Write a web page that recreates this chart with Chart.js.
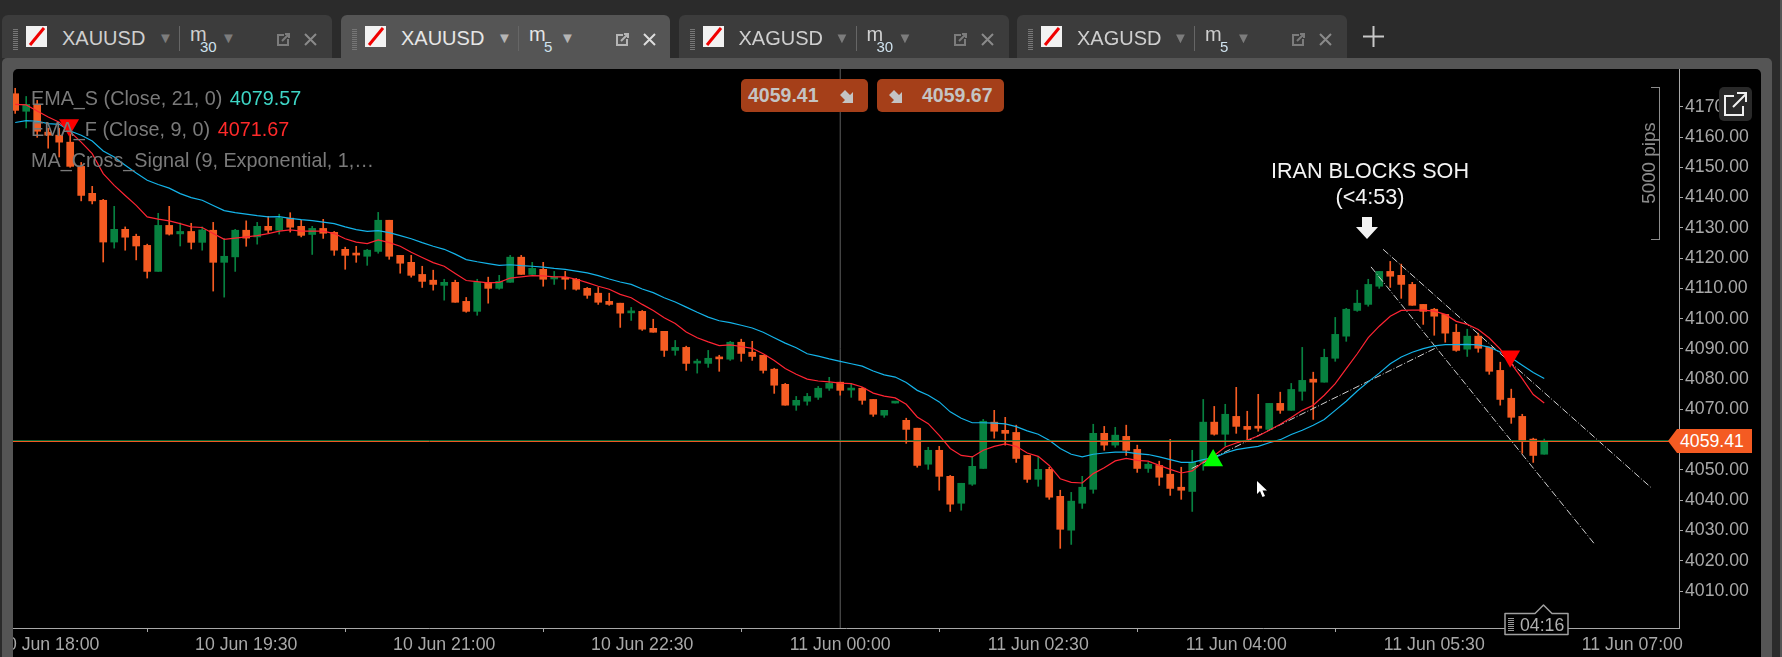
<!DOCTYPE html>
<html>
<head>
<meta charset="utf-8">
<title>XAUUSD m5</title>
<script src="https://cdn.jsdelivr.net/npm/chart.js@4"></script>
<style>
  html, body { margin: 0; padding: 0; width: 1782px; height: 657px; overflow: hidden; background: #2b2b2b; font-family: "Liberation Sans", Arial, sans-serif; }
  .abs { position: absolute; white-space: nowrap; }
  #frame { position: absolute; left: 2px; top: 58px; width: 1770px; height: 610px; background: #555; border-radius: 5px 5px 0 0; }
  #panel { position: absolute; left: 13px; top: 69px; width: 1748px; height: 600px; background: #000; border-radius: 5px 5px 0 0; }
  #chart { position: absolute; left: -27px; top: 49px; }
  .tab { position: absolute; top: 15px; height: 43px; width: 330px; background: #3c3c3c; border-radius: 6px 6px 0 0; }
  .tab.active { background: #555; height: 54px; width: 329px; }
  .legend { color: #7a7a7a; font-size: 19.8px; line-height: 24px; }
  .quote { top: 79px; width: 127px; height: 33px; background: #a53f19; border-radius: 5px; color: #c4c4c4; font-weight: bold; font-size: 19.5px; line-height: 33px; }
</style>
</head>
<body>
<div id="frame"></div>
<div class="abs" style="left:1780px;top:0;width:2px;height:657px;background:#555"></div>
<div id="panel"></div>
<canvas id="chart" width="1788" height="608"></canvas>
<div id="overlay"></div>

<script>
// candles, oldest first, 5 minutes each
const opens = [
  4174.3,4168.5,4170.5,4161.6,4160.6,4158.3,4150.3,4141.4,4139.1,4125.3,
  4129.5,4127.2,4124.2,4115.6,4130.8,4128.0,4128.8,4125.2,4129.2,4118.6,
  4120.4,4129.2,4127.0,4130.5,4129.2,4133.2,4130.5,4127.8,4129.8,4128.5,
  4122.9,4121.2,4120.6,4122.2,4132.5,4120.9,4118.6,4114.6,4112.7,4111.0,
  4112.0,4105.7,4102.4,4112.0,4110.0,4112.0,4120.3,4114.6,4116.3,4113.1,
  4113.3,4113.0,4110.0,4108.4,4105.7,4105.1,4101.9,4102.4,4096.8,4095.8,
  4089.5,4090.5,4085.3,4085.2,4086.9,4086.6,4092.2,4088.9,4087.9,4083.3,
  4078.3,4071.4,4072.7,4074.0,4077.0,4079.0,4076.4,4077.0,4073.3,4068.1,
  4072.1,4066.4,4063.8,4051.9,4056.5,4047.9,4039.0,4045.3,4050.5,4065.8,
  4063.1,4062.4,4054.8,4046.9,4050.2,4041.3,4030.1,4039.0,4043.6,4062.1,
  4058.2,4061.1,4056.8,4050.5,4051.5,4048.6,4044.3,4042.9,4052.5,4065.8,
  4061.8,4067.7,4064.4,4063.9,4063.4,4072.0,4069.7,4076.0,4080.0,4079.0,
  4086.9,4094.2,4102.7,4104.7,4110.7,4115.6,4114.3,4111.3,4104.7,4103.1,
  4101.4,4095.5,4089.9,4094.2,4090.5,4082.9,4073.7,4067.7,4060.2,4055.2
];
const closes = [
  4168.8,4170.8,4161.9,4160.6,4158.3,4150.3,4140.7,4138.9,4125.3,4129.5,
  4126.9,4124.0,4115.6,4130.8,4127.9,4128.8,4125.2,4129.3,4118.6,4120.6,
  4129.2,4126.6,4130.5,4129.2,4133.2,4130.2,4127.5,4129.8,4128.2,4122.6,
  4120.9,4121.0,4122.6,4132.5,4120.6,4118.3,4114.3,4112.3,4111.3,4112.0,
  4105.4,4102.4,4112.0,4110.0,4112.3,4120.3,4114.6,4116.6,4113.0,4113.3,
  4113.0,4109.7,4107.7,4105.4,4104.7,4101.8,4102.1,4096.5,4095.5,4089.5,
  4090.5,4085.2,4085.6,4086.9,4086.7,4092.2,4088.5,4087.5,4082.9,4078.0,
  4071.4,4073.0,4074.3,4077.0,4078.6,4076.3,4076.6,4073.0,4068.4,4069.7,
  4072.4,4063.4,4051.5,4056.5,4047.9,4038.7,4045.6,4051.2,4066.1,4062.8,
  4062.1,4053.8,4046.9,4050.2,4041.0,4030.4,4039.7,4044.3,4062.1,4058.2,
  4061.5,4056.5,4050.5,4051.9,4047.6,4043.9,4043.3,4052.5,4065.8,4061.8,
  4068.4,4064.4,4063.4,4063.8,4072.0,4069.7,4076.6,4079.6,4079.0,4087.2,
  4094.8,4103.1,4105.1,4111.3,4115.6,4114.0,4111.3,4104.4,4102.4,4100.8,
  4095.2,4089.5,4094.2,4090.2,4082.6,4073.3,4067.4,4059.5,4054.8,4059.4
];
const highs = [
  4176.1,4173.4,4172.1,4162.9,4162.9,4160.9,4151.6,4143.7,4139.4,4137.1,
  4130.3,4127.9,4124.6,4134.8,4137.1,4131.6,4131.5,4130.3,4131.8,4126.5,
  4129.5,4132.3,4131.8,4133.8,4134.5,4135.0,4132.5,4130.5,4132.8,4128.8,
  4123.6,4123.9,4122.9,4135.1,4132.5,4120.9,4120.9,4117.3,4116.0,4113.0,
  4112.7,4107.0,4113.0,4113.7,4114.3,4120.9,4120.9,4118.6,4118.6,4115.6,
  4115.6,4113.3,4110.3,4110.3,4108.4,4105.1,4103.7,4102.7,4099.8,4095.8,
  4092.8,4090.9,4086.6,4089.5,4087.9,4092.5,4093.2,4092.5,4087.9,4083.6,
  4078.6,4074.3,4075.3,4077.6,4080.6,4079.0,4078.6,4077.3,4073.3,4069.7,
  4072.4,4067.1,4063.8,4057.5,4057.8,4048.2,4045.6,4054.5,4066.7,4069.7,
  4067.4,4064.8,4054.8,4054.5,4050.9,4043.3,4042.6,4047.9,4065.1,4064.4,
  4064.1,4064.8,4058.2,4052.5,4052.9,4060.1,4050.9,4056.5,4073.3,4071.0,
  4071.7,4077.3,4069.4,4075.0,4072.0,4075.7,4078.6,4090.5,4082.3,4089.9,
  4100.4,4103.4,4109.4,4113.0,4115.6,4118.9,4118.0,4112.0,4104.7,4103.4,
  4101.4,4098.1,4096.5,4095.2,4090.5,4085.6,4076.7,4068.4,4060.5,4060.2
];
const lows = [
  4167.8,4163.0,4159.9,4156.3,4153.4,4150.0,4138.9,4137.9,4118.7,4123.3,
  4122.6,4119.4,4113.4,4115.6,4127.6,4124.0,4123.0,4122.6,4109.1,4107.1,
  4115.6,4123.9,4124.6,4128.2,4127.9,4128.6,4127.0,4121.2,4126.5,4120.9,
  4116.3,4118.6,4117.6,4121.6,4119.6,4115.0,4113.7,4110.3,4109.4,4106.1,
  4105.4,4102.1,4101.1,4105.1,4109.7,4112.0,4114.6,4114.6,4110.7,4111.3,
  4109.7,4109.4,4106.7,4104.7,4104.4,4097.1,4099.4,4096.1,4095.5,4087.5,
  4087.9,4082.9,4082.0,4083.9,4082.6,4086.2,4085.9,4086.2,4082.0,4075.3,
  4071.4,4069.7,4071.4,4073.3,4076.3,4074.7,4074.0,4071.7,4067.7,4067.4,
  4072.1,4058.8,4050.9,4050.2,4043.3,4036.3,4036.7,4044.9,4050.5,4060.5,
  4058.2,4052.5,4045.9,4044.6,4040.3,4024.1,4025.4,4037.3,4042.3,4056.5,
  4057.5,4054.8,4049.2,4049.2,4044.9,4041.6,4040.3,4036.3,4049.9,4061.5,
  4057.8,4062.1,4059.8,4062.8,4063.4,4068.7,4069.7,4073.0,4066.7,4079.0,
  4085.9,4092.5,4102.4,4104.1,4110.0,4110.3,4106.7,4104.4,4098.1,4094.5,
  4092.2,4089.2,4087.5,4088.9,4081.6,4071.4,4065.4,4055.5,4052.5,4055.2
];

const emaSlow = [
  4164.8,4165.4,4165.2,4164.4,4164.2,4162.0,4160.6,4158.7,4155.4,4153.4,
  4150.7,4148.1,4145.7,4144.3,4143.1,4141.3,4140.0,4139.1,4137.4,4135.7,
  4135.0,4134.5,4134.0,4133.6,4133.7,4133.1,4132.7,4132.4,4131.9,4131.4,
  4130.3,4129.4,4128.8,4129.1,4128.4,4127.4,4126.4,4125.1,4123.9,4122.9,
  4121.3,4119.5,4118.8,4118.2,4117.6,4117.8,4117.5,4117.3,4117.0,4116.6,
  4116.3,4115.7,4115.1,4114.2,4113.1,4112.1,4111.3,4109.8,4108.6,4106.9,
  4105.5,4103.8,4102.1,4100.5,4099.3,4098.7,4097.8,4096.9,4095.5,4093.7,
  4091.9,4090.4,4088.4,4087.6,4086.7,4085.9,4085.1,4084.3,4082.7,4081.4,
  4080.7,4078.9,4076.3,4074.7,4072.5,4069.2,4067.1,4065.6,4065.6,4065.5,
  4065.2,4064.3,4062.9,4061.8,4059.8,4057.1,4055.2,4054.3,4055.2,4055.6,
  4055.9,4055.9,4055.4,4055.1,4054.3,4053.4,4052.5,4052.5,4053.4,4054.1,
  4055.6,4056.7,4057.3,4057.8,4059.0,4060.0,4061.7,4063.1,4064.8,4066.7,
  4069.7,4072.7,4076.1,4079.1,4082.0,4085.1,4087.3,4088.9,4090.1,4091.0,
  4091.4,4091.4,4091.5,4091.3,4090.6,4089.0,4087.1,4084.6,4082.2,4080.2
];
const emaFast = [
  4170.8,4170.6,4168.6,4166.6,4164.9,4161.7,4158.3,4154.5,4147.9,4144.0,
  4140.7,4137.4,4133.6,4132.9,4132.3,4131.4,4130.3,4130.1,4128.1,4126.2,
  4126.6,4127.0,4127.4,4128.1,4128.9,4129.3,4128.9,4128.9,4128.9,4128.1,
  4126.4,4125.3,4124.8,4126.0,4125.1,4123.9,4121.9,4120.2,4118.5,4117.3,
  4114.9,4112.6,4112.2,4111.8,4112.0,4113.4,4113.8,4114.2,4114.1,4113.8,
  4113.8,4113.0,4111.9,4110.7,4109.7,4108.0,4106.9,4104.7,4102.7,4100.3,
  4098.4,4095.6,4093.7,4092.3,4091.1,4091.3,4090.8,4090.2,4088.4,4086.2,
  4083.5,4081.6,4080.0,4079.4,4079.1,4078.7,4078.5,4077.4,4075.4,4074.4,
  4073.8,4071.7,4067.5,4065.3,4061.4,4057.1,4054.8,4054.3,4056.5,4057.8,
  4058.6,4057.8,4055.6,4054.5,4051.5,4047.1,4045.9,4045.7,4048.8,4050.7,
  4053.0,4053.8,4053.2,4052.9,4051.5,4050.2,4049.0,4049.7,4052.6,4054.8,
  4057.6,4058.9,4059.9,4061.2,4063.1,4065.1,4067.3,4069.7,4071.4,4074.7,
  4078.5,4083.5,4088.4,4093.7,4097.5,4100.8,4102.7,4102.8,4102.8,4102.5,
  4101.4,4099.1,4098.1,4096.4,4093.6,4089.9,4085.1,4080.2,4074.9,4072.1
];

const bid = 4059.41;
const ask = 4059.67;

// [candle index, price] pairs
const sellSignals = [[4.9, 4163.95], [135.9, 4087.6]];
const buySignals = [[108.9, 4053.1]];
const trendLineA = [[124.35, 4122.9], [148.8, 4043.9]];
const trendLineB = [[123.25, 4117.1], [143.6, 4025.4]];
const trendLineC = [[106.95, 4050.5], [129.25, 4090.5]];
const crosshairIndex = 75;

const yTicks = [4010, 4020, 4030, 4040, 4050, 4060, 4070, 4080, 4090, 4100, 4110, 4120, 4130, 4140, 4150, 4160, 4170];
const xTickIndex = [3, 21, 39, 57, 75, 93, 111, 129, 147];
const xTickLabels = ['10 Jun 18:00', '10 Jun 19:30', '10 Jun 21:00', '10 Jun 22:30', '11 Jun 00:00', '11 Jun 02:30', '11 Jun 04:00', '11 Jun 05:30', '11 Jun 07:00'];

const xMin = -0.2;
const xMax = 151.25;
const yMin = 3997.79;
const yMax = 4182.47;

const UP = '#078140';
const DOWN = '#f45b22';
const candleColors = opens.map((o, i) => (closes[i] >= o ? UP : DOWN));

function toPoints(pairs) {
  return pairs.map(p => ({ x: p[0], y: p[1] }));
}

function lineSet(data, color, width, dash, order) {
  return {
    type: 'line',
    data: data,
    borderColor: color,
    borderWidth: width,
    borderDash: dash || [],
    pointRadius: 0,
    tension: 0,
    order: order === undefined ? 1 : order
  };
}

function markerSet(pairs, color, rotation) {
  return {
    type: 'line',
    data: toPoints(pairs),
    showLine: false,
    pointStyle: 'triangle',
    pointRadius: 11.5,
    pointRotation: rotation,
    pointBackgroundColor: color,
    pointBorderWidth: 0,
    order: 0
  };
}

new Chart(document.getElementById('chart'), {
  type: 'bar',
  data: {
    datasets: [
      lineSet([{ x: crosshairIndex, y: yMin }, { x: crosshairIndex, y: yMax }], '#5e5e5e', 1, [], 4),
      {
        type: 'bar',
        data: lows.map((l, i) => ({ x: i, y: [l, highs[i]] })),
        backgroundColor: candleColors,
        barThickness: 1,
        grouped: false,
        order: 3
      },
      {
        type: 'bar',
        data: opens.map((o, i) => ({ x: i, y: [o, closes[i]] })),
        backgroundColor: candleColors,
        barThickness: 7,
        minBarLength: 2,
        grouped: false,
        order: 2
      },
      lineSet([{ x: xMin, y: bid }, { x: xMax, y: bid }], DOWN, 1),
      lineSet([{ x: xMin, y: ask }, { x: xMax, y: ask }], UP, 1),
      lineSet(emaFast.map((v, i) => ({ x: i, y: v })), '#ff2433', 1.2),
      lineSet(emaSlow.map((v, i) => ({ x: i, y: v })), '#14b4ea', 1.2),
      lineSet(toPoints(trendLineA), '#cfcfcf', 1, [7, 2, 1, 2]),
      lineSet(toPoints(trendLineB), '#cfcfcf', 1, [7, 2, 1, 2]),
      lineSet(toPoints(trendLineC), '#cfcfcf', 1, [7, 2, 1, 2]),
      markerSet(sellSignals, '#ff0000', 180),
      markerSet(buySignals, '#00ff00', 0)
    ]
  },
  options: {
    responsive: false,
    animation: false,
    devicePixelRatio: 1,
    // room for the axis label overhang, so the plot stays where it should
    layout: { padding: { left: 40, top: 20, right: 0, bottom: 0 } },
    plugins: { legend: { display: false }, tooltip: { enabled: false } },
    scales: {
      x: {
        type: 'linear',
        offset: false,
        min: xMin,
        max: xMax,
        border: { color: '#a8a8a8', width: 1 },
        grid: { drawOnChartArea: false, color: '#a8a8a8', tickLength: 4 },
        ticks: {
          color: '#a8a8a8',
          font: { family: 'Liberation Sans', size: 17.7 },
          padding: 2,
          maxRotation: 0,
          autoSkip: false,
          callback: v => xTickLabels[xTickIndex.indexOf(v)]
        },
        afterBuildTicks: s => { s.ticks = xTickIndex.map(v => ({ value: v })); },
        afterFit: s => { s.height = 29; }
      },
      y: {
        position: 'right',
        min: yMin,
        max: yMax,
        border: { color: '#a8a8a8', width: 1 },
        grid: { drawOnChartArea: false, color: '#a8a8a8', tickLength: 4 },
        ticks: {
          color: '#a8a8a8',
          font: { family: 'Liberation Sans', size: 17.7 },
          padding: 2,
          callback: v => v.toFixed(2)
        },
        afterBuildTicks: s => { s.ticks = yTicks.map(v => ({ value: v })); },
        afterFit: s => { s.width = 82; }
      }
    }
  }
});

// everything around the plot: tabs, legend, price boxes, annotation
const tabs = [
  { left: 2, symbol: 'XAUUSD', unit: '30', active: false },
  { left: 341, symbol: 'XAUUSD', unit: '5', active: true },
  { left: 678.5, symbol: 'XAGUSD', unit: '30', active: false },
  { left: 1017, symbol: 'XAGUSD', unit: '5', active: false }
];
const overlay = document.getElementById('overlay');

function addHtml(html) {
  overlay.insertAdjacentHTML('beforeend', html);
}

function text(left, top, str, style) {
  return '<div class="abs" style="left:' + left + 'px;top:' + top + 'px;' + style + '">' + str + '</div>';
}

function legendLine(top, str) {
  addHtml(text(31, top, str, '').replace('class="abs"', 'class="abs legend"'));
}

// frame strip hides the part of the first time label left of the panel
addHtml('<div class="abs" style="left:2px;top:69px;width:11px;height:588px;background:#555"></div>');
addHtml('<div class="abs" style="left:0;top:69px;width:2px;height:588px;background:#2b2b2b"></div>');

tabs.forEach(t => {
  const bright = t.active ? '#e6e6e6' : '#cfcfcf';
  const dim = t.active ? '#b5b5b5' : '#7c7c7c';
  const l = t.left;
  let h = '<div class="tab' + (t.active ? ' active' : '') + '" style="left:' + l + 'px"></div>';
  h += '<div class="abs" style="left:' + (l + 11) + 'px;top:28px;width:5px;height:22px;background:repeating-linear-gradient(0deg,#777 0 1px,transparent 1px 2px)"></div>';
  h += '<svg class="abs" style="left:' + (l + 24) + 'px;top:26px" width="21" height="21"><rect width="21" height="21" fill="#f2f2f2"/><line x1="4" y1="19" x2="18" y2="2" stroke="#f00000" stroke-width="3"/></svg>';
  h += text(l + 60, 26, t.symbol, 'font-size:20px;line-height:24px;color:' + bright);
  h += text(l + 156, 29, '▼', 'font-size:15px;line-height:18px;color:' + dim);
  h += '<div class="abs" style="left:' + (l + 177) + 'px;top:26px;width:1px;height:25px;background:#666"></div>';
  h += text(l + 188, 22, 'm', 'font-size:20px;line-height:24px;color:' + bright);
  h += text(l + (t.unit === '5' ? 203 : 198), 38, t.unit, 'font-size:15px;line-height:18px;color:#cfe2ee');
  h += text(l + 219, 29, '▼', 'font-size:15px;line-height:18px;color:' + dim);
  h += '<svg class="abs" style="left:' + (l + 274) + 'px;top:32px" width="15" height="15" fill="none" stroke="' + dim + '" stroke-width="2"><path d="M8 3H2V13H12V7M6 9L13 2M9 2H13V6"/></svg>';
  h += '<svg class="abs" style="left:' + (l + 302) + 'px;top:33px" width="13" height="13" stroke="' + (t.active ? '#dddddd' : '#8a8a8a') + '" stroke-width="2"><path d="M1 1L12 12M12 1L1 12"/></svg>';
  addHtml(h);
});
addHtml('<svg class="abs" style="left:1363px;top:26px" width="21" height="21" stroke="#c8c8c8" stroke-width="2"><path d="M0 10.5H21M10.5 0V21"/></svg>');

// indicator legend
legendLine(86, 'EMA_S (Close, 21, 0) <span style="color:#3ed6c6;margin-left:2px">4079.57</span>');
legendLine(117, 'EMA_F (Close, 9, 0) <span style="color:#ff2a2a;margin-left:2px">4071.67</span>');
legendLine(148, 'MA_Cross_Signal (9, Exponential, 1,…');

// bid and ask boxes
const arrow = '<path d="M1 2L6 7L9 4V15H-2L1 12L-4 7Z" fill="#c4c4c4"/>';
addHtml('<div class="abs quote" style="left:741px"><span style="margin-left:7px">4059.41</span><svg class="abs" style="left:97px;top:9px;overflow:visible" width="16" height="16"><g transform="translate(6,0)">' + arrow + '</g></svg></div>');
addHtml('<div class="abs quote" style="left:877px"><span style="margin-left:45px">4059.67</span><svg class="abs" style="left:10px;top:9px;overflow:visible" width="16" height="16"><g transform="translate(6,0)">' + arrow + '</g></svg></div>');

// annotation over the last swing
addHtml('<div class="abs" style="left:1270px;top:158px;width:200px;text-align:center;color:#f4f4f4;font-size:21.6px;line-height:25.5px">IRAN BLOCKS SOH<br>(&lt;4:53)</div>');
addHtml('<svg class="abs" style="left:1356px;top:217px" width="22" height="22"><path d="M6 0H16V10H22L11 22L0 10H6Z" fill="#f2f2f2"/></svg>');

// 5000 pips ruler
addHtml('<div class="abs" style="left:1651px;top:87px;width:8px;height:151px;border:1px solid #8c8c8c;border-left:none"></div>');
addHtml('<div class="abs" style="left:1599px;top:153px;width:100px;text-align:center;color:#8c8c8c;font-size:18.8px;line-height:20px;transform:rotate(-90deg)">5000 pips</div>');

// popout button over the top of the price axis
addHtml('<div class="abs" style="left:1719px;top:87px;width:33px;height:34px;background:#292929;border-radius:5px"></div>');
addHtml('<svg class="abs" style="left:1722px;top:91px" width="26" height="26" fill="none" stroke="#f0f0f0" stroke-width="2"><path d="M12 5H3V24H21V15M11 16L24 3M15 2H24V11"/></svg>');

// current price tag on the axis
addHtml('<div class="abs" style="left:1668px;top:429px;width:84px;height:24px;background:#f45b22;clip-path:polygon(0 50%,9px 0,100% 0,100% 100%,9px 100%);color:#fff;font-size:17.7px;line-height:24px;text-indent:12px">4059.41</div>');

// countdown to the bar close
addHtml('<svg class="abs" style="left:1503px;top:604px" width="67" height="32"><path d="M2 9.5H32L40.5 1L49 9.5H65V30.5H2Z" fill="#000" stroke="#a0a0a0" stroke-width="1.5" stroke-linejoin="round"/></svg>');
addHtml('<div class="abs" style="left:1508px;top:618px;width:6px;height:13px;background:repeating-linear-gradient(0deg,#999 0 1px,transparent 1px 2px)"></div>');
addHtml(text(1520, 614, '04:16', 'color:#b0b0b0;font-size:17.7px;line-height:22px'));

// mouse pointer left in the screenshot
addHtml('<svg class="abs" style="left:1257px;top:481px" width="11" height="17"><path d="M0 0V13L3 10L5.5 16L8 15L5.5 9.5H10Z" fill="#fff"/></svg>');
</script>
</body>
</html>
